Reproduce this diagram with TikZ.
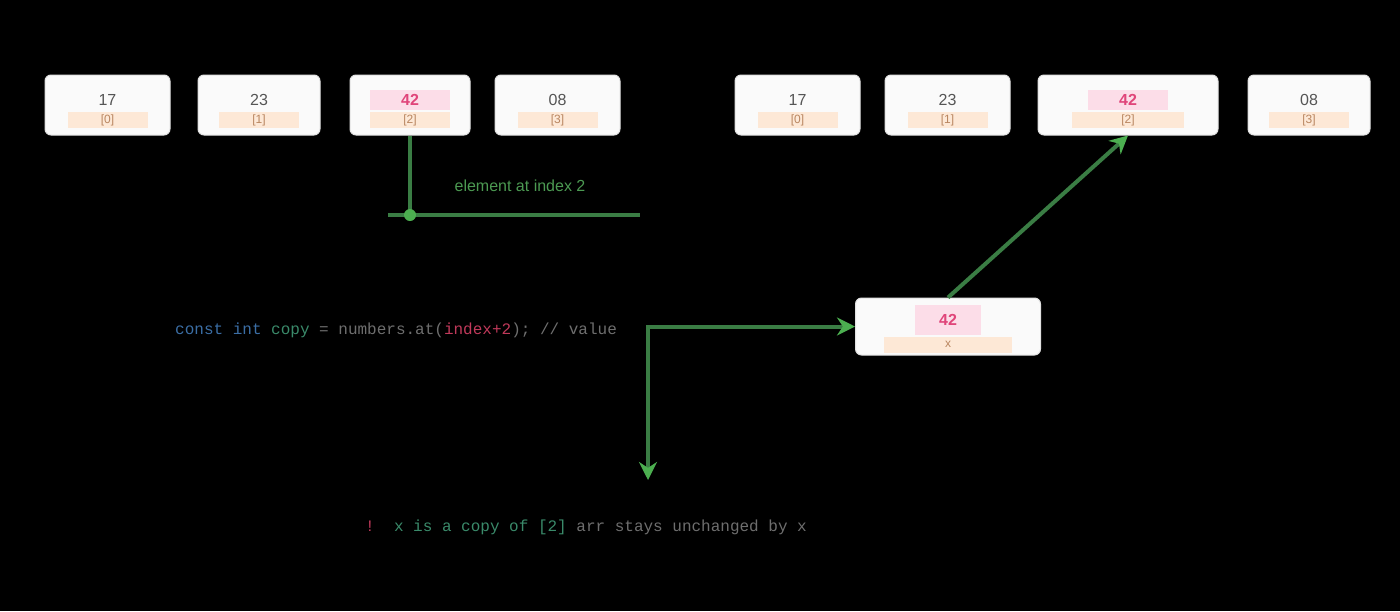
\documentclass[tikz,border=0pt]{standalone}
\usepackage{fontspec}
\setmainfont{Liberation Sans}
\setmonofont{Liberation Mono}
\usetikzlibrary{arrows.meta,calc}
\definecolor{bg}{HTML}{000000}
\definecolor{cellfill}{HTML}{FAFAFA}
\definecolor{valtext}{HTML}{555555}
\definecolor{peach}{HTML}{FDE8D6}
\definecolor{peachtext}{HTML}{B98660}
\definecolor{pinkfill}{HTML}{FCDDE8}
\definecolor{pinktext}{HTML}{E0457A}
\definecolor{linkgreen}{HTML}{3A7D44}
\definecolor{tipgreen}{HTML}{4CAF50}
\definecolor{labelgreen}{HTML}{4C9A52}
\definecolor{codegray}{HTML}{6E6E6E}
\definecolor{codeblue}{HTML}{3B6EA5}
\definecolor{codeteal}{HTML}{3A8A6A}
\definecolor{codered}{HTML}{C0395A}
\tikzset{
  cell/.style={draw=cellfill!80!gray, fill=cellfill, rounded corners=6pt, line width=1pt, minimum height=60pt, inner sep=0pt},
  valnode/.style={text=valtext, font=\fontsize{16}{18}\selectfont, inner sep=0pt},
  hotval/.style={fill=pinkfill, text=pinktext, font=\fontsize{16}{18}\selectfont\bfseries, minimum height=20pt, inner sep=0pt},
  idx/.style={fill=peach, text=peachtext, font=\fontsize{12}{14}\selectfont, minimum height=16pt, inner sep=0pt},
  link/.style={draw=linkgreen, line width=4pt},
  tipend/.style={-{Stealth[length=18pt,width=18pt,color=tipgreen]}},
  tipboth/.style={{Stealth[length=18pt,width=18pt,color=tipgreen]}-{Stealth[length=18pt,width=18pt,color=tipgreen]}},
  codetext/.style={font=\ttfamily\fontsize{16}{18}\selectfont, text=codegray, inner sep=0pt},
  glabel/.style={font=\fontsize{16}{18}\selectfont, text=labelgreen, inner sep=0pt},
}
\begin{document}
\begin{tikzpicture}[x=1pt,y=-1pt]
\useasboundingbox[fill=bg] (0,0) rectangle (1400,611);
% left array
\node[cell, minimum width=125pt] (b1) at (107.5,105) {};
\node[cell, minimum width=122pt] (b2) at (259,105) {};
\node[cell, minimum width=120pt] (b3) at (410,105) {};
\node[cell, minimum width=125pt] (b4) at (557.5,105) {};
% right array
\node[cell, minimum width=125pt] (b5) at (797.5,105) {};
\node[cell, minimum width=125pt] (b6) at (947.5,105) {};
\node[cell, minimum width=180pt] (b7) at (1128,105) {};
\node[cell, minimum width=122pt] (b8) at (1309,105) {};
% copied value
\node[cell, minimum width=185pt, minimum height=57pt] (b9) at (948,326.5) {};
% contents
\node[valnode] (v1) at ([yshift=5pt]b1.center) {17};
\node[idx, minimum width=80pt] (i1) at ([yshift=-15pt]b1.center) {[0]};
\node[valnode] (v2) at ([yshift=5pt]b2.center) {23};
\node[idx, minimum width=80pt] (i2) at ([yshift=-15pt]b2.center) {[1]};
\node[hotval, minimum width=80pt] (v3) at ([yshift=5pt]b3.center) {42};
\node[idx, minimum width=80pt] (i3) at ([yshift=-15pt]b3.center) {[2]};
\node[valnode] (v4) at ([yshift=5pt]b4.center) {08};
\node[idx, minimum width=80pt] (i4) at ([yshift=-15pt]b4.center) {[3]};
\node[valnode] (v5) at ([yshift=5pt]b5.center) {17};
\node[idx, minimum width=80pt] (i5) at ([yshift=-15pt]b5.center) {[0]};
\node[valnode] (v6) at ([yshift=5pt]b6.center) {23};
\node[idx, minimum width=80pt] (i6) at ([yshift=-15pt]b6.center) {[1]};
\node[hotval, minimum width=80pt] (v7) at ([yshift=5pt]b7.center) {42};
\node[idx, minimum width=112pt] (i7) at ([yshift=-15pt]b7.center) {[2]};
\node[valnode] (v8) at ([yshift=5pt]b8.center) {08};
\node[idx, minimum width=80pt] (i8) at ([yshift=-15pt]b8.center) {[3]};
\node[hotval, minimum width=66pt, minimum height=30pt] (v9) at ([yshift=7pt]b9.center) {42};
\node[idx, minimum width=128pt] (i9) at ([yshift=-18pt]b9.center) {x};
% top-left annotation
\coordinate (j1) at (410,215);
\coordinate (e1) at (640,215);
\coordinate (s1) at (388,215);
\node[glabel] (l1) at (520,186) {element at index 2};
\draw[link] (b3.south) -- (j1);
\draw[link] (s1) -- (e1);
\fill[tipgreen] (j1) circle (6pt);
% code lines
\node[codetext, anchor=west] (c1) at (175,330) {\textcolor{codeblue}{const\ int}\ \textcolor{codeteal}{copy}\ =\ numbers.at(\textcolor{codered}{index+2});\ //\ value};
\node[codetext, anchor=west] (c2) at (365,527) {\textcolor{codered}{!}\ \ \textcolor{codeteal}{x\ is\ a\ copy\ of\ [2]}\ arr\ stays\ unchanged\ by\ x};
\coordinate (d2) at (648,480);
\draw[link, tipboth] (b9.west) -| (d2);
\draw[link, tipend] (b9.north) -- (b7.south);
\end{tikzpicture}
\end{document}
